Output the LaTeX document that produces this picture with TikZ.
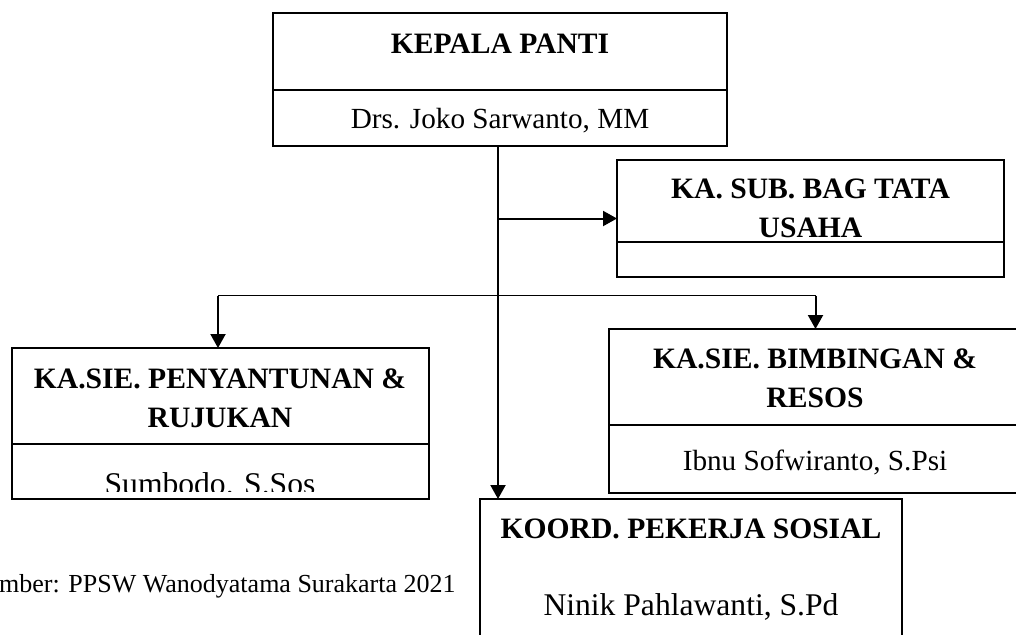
\documentclass[tikz,border=0pt]{standalone}
\usepackage{fontspec}
\setmainfont{Liberation Serif}
\usetikzlibrary{arrows.meta}
\begin{document}
\begin{tikzpicture}[x=0.5pt,y=-0.5pt,
  box/.style={draw=black,line width=1.1pt,inner sep=0pt,outer sep=0pt,rectangle},
  divider/.style={draw=black,line width=0.55pt},
  conn/.style={draw=black,line width=1pt,-{Triangle[length=7pt,width=7.5pt]}},
  bracket/.style={draw=black,line width=0.65pt},
  ttl/.style={anchor=base,inner sep=0pt,font=\fontsize{14.8pt}{19.5pt}\selectfont\bfseries},
  nm/.style={anchor=base,inner sep=0pt,font=\fontsize{14.6pt}{19.5pt}\selectfont},
  nmbig/.style={anchor=base,inner sep=0pt,font=\fontsize{15.8pt}{19.5pt}\selectfont},
  captext/.style={anchor=base east,inner sep=0pt,font=\fontsize{13pt}{16pt}\selectfont},
]
\clip (0,0) rectangle (1016,634);
\fill[white] (0,0) rectangle (1016,634);

% boxes
\node[box,minimum width=227pt,minimum height=66.5pt] (top) at (500,79.5) {};
\node[box,minimum width=193.5pt,minimum height=58.5pt] (sub) at (810.5,218.5) {};
\node[box,minimum width=208.5pt,minimum height=75.5pt] (pen) at (220.5,423.5) {};
\node[box,minimum width=206pt,minimum height=82pt] (bim) at (815,411) {};
\node[box,minimum width=211pt,minimum height=85pt] (koord) at (691,584) {};

% dividers
\coordinate (dtop) at (0,90);
\coordinate (dsub) at (0,242);
\coordinate (dpen) at (0,444);
\coordinate (dbim) at (0,425);
\draw[divider] (top.west |- dtop) -- (top.east |- dtop);
\draw[divider] (sub.west |- dsub) -- (sub.east |- dsub);
\draw[divider] (pen.west |- dpen) -- (pen.east |- dpen);
\draw[divider] (bim.west |- dbim) -- (bim.east |- dbim);

% texts
\node[ttl] (t1) at (500,53) {KEPALA PANTI};
\node[nm] (n1) at (500,128) {Drs. Joko Sarwanto, MM};
\node[ttl] (t2a) at (810.5,198) {KA. SUB. BAG TATA};
\node[ttl] (t2b) at (810.5,237) {USAHA};
\node[ttl] (t3a) at (220,388) {KA.SIE. PENYANTUNAN \&};
\node[ttl] (t3b) at (220,427) {RUJUKAN};
\begin{scope}
\clip (12,444) rectangle (429,491);
\node[nmbig] (n3) at (210,494) {Sumbodo. S.Sos};
\end{scope}
\node[ttl] (t4a) at (815,368) {KA.SIE. BIMBINGAN \&};
\node[ttl] (t4b) at (815,407) {RESOS};
\node[nm] (n4) at (815,470) {Ibnu Sofwiranto, S.Psi};
\node[ttl] (t5) at (691,538) {KOORD. PEKERJA SOSIAL};
\node[nmbig] (n5) at (691,615) {Ninik Pahlawanti, S.Pd};
\node[captext] (caption) at (456,592) {Sumber: PPSW Wanodyatama Surakarta 2021};

% connectors
\coordinate (spine) at (498,0);
\coordinate (bl) at (218,295.5);
\coordinate (br) at (815.5,295.5);
\draw[conn] (top.south -| spine) -- (koord.north -| spine);
\draw[conn] (spine |- sub.west) -- (sub.west);
\draw[bracket] (bl) -- (br);
\draw[conn] (bl) -- (bl |- pen.north);
\draw[conn] (br) -- (br |- bim.north);
\end{tikzpicture}
\end{document}
